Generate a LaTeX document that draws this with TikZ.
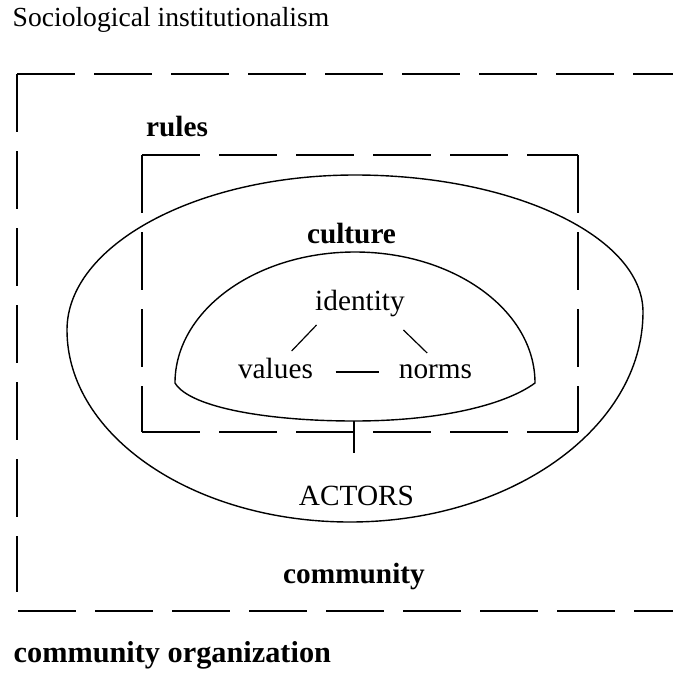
\documentclass[tikz,border=0pt]{standalone}
\usepackage{fontspec}
\setmainfont{Liberation Serif}
\begin{document}
\begin{tikzpicture}[x=1pt, y=-1pt, line width=1.4pt,
  frame/.style={dash pattern=on 58pt off 19pt},
  txt/.style={inner sep=0pt, anchor=base, font=\fontsize{29.3}{35}\selectfont},
  head/.style={txt, font=\fontsize{29.3}{35}\selectfont\bfseries},
  link/.style={line width=1.2pt}]

\useasboundingbox (0,0) rectangle (673,678);

\node[txt, anchor=base west, font=\fontsize{27.6}{33}\selectfont] (title) at (12,26) {Sociological institutionalism};

% community frame, open on the right
\draw[frame] (17,74) -- (673,74);
\draw[frame] (17,74) -- (17,592);
\draw[frame] (18,611) -- (673,611);

% rules
\draw[frame] (142,155) -- (578,155);
\draw[frame] (142,155) -- (142,432);
\draw[frame] (578,155) -- (578,432);
\draw[frame] (142,432) -- (578,432);

% actors
\draw (355,175) .. controls (514,175) and (643,237) .. (643,312)
  .. controls (643,428) and (511,522) .. (350,522)
  .. controls (194,522) and (67,436) .. (67,330)
  .. controls (67,245) and (197,175) .. cycle;

% culture
\draw (175,383) arc[start angle=180, end angle=360, x radius=180, y radius=131]
  .. controls (505,405) and (440,421) .. (354,421)
  .. controls (270,421) and (190,408) .. cycle;
\coordinate (domebase) at (354,421);
\draw (domebase) -- ++(0,32);

\node[head] (rules) at (177,136) {rules};
\node[head] (culture) at (351.5,243) {culture};
\node[txt] (identity) at (360,310) {identity};
\node[txt] (values) at (275.5,378) {values};
\node[txt] (norms) at (435.5,378) {norms};
\node[txt] (actors) at (356.5,505) {ACTORS};
\node[head] (community) at (354,583) {community};
\node[head, anchor=base west, font=\fontsize{30.3}{36}\selectfont\bfseries] (org) at (13,662) {community organization};

\draw[link] ([shift={(2,15)}]identity.base west) -- ([shift={(-22,-27)}]values.base east);
\draw[link] ([shift={(-2,20)}]identity.base east) -- ([shift={(29,-25)}]norms.base west);
\draw[link] ([shift={(22,-6)}]values.base east) -- ([shift={(-19,-6)}]norms.base west);

\end{tikzpicture}
\end{document}
